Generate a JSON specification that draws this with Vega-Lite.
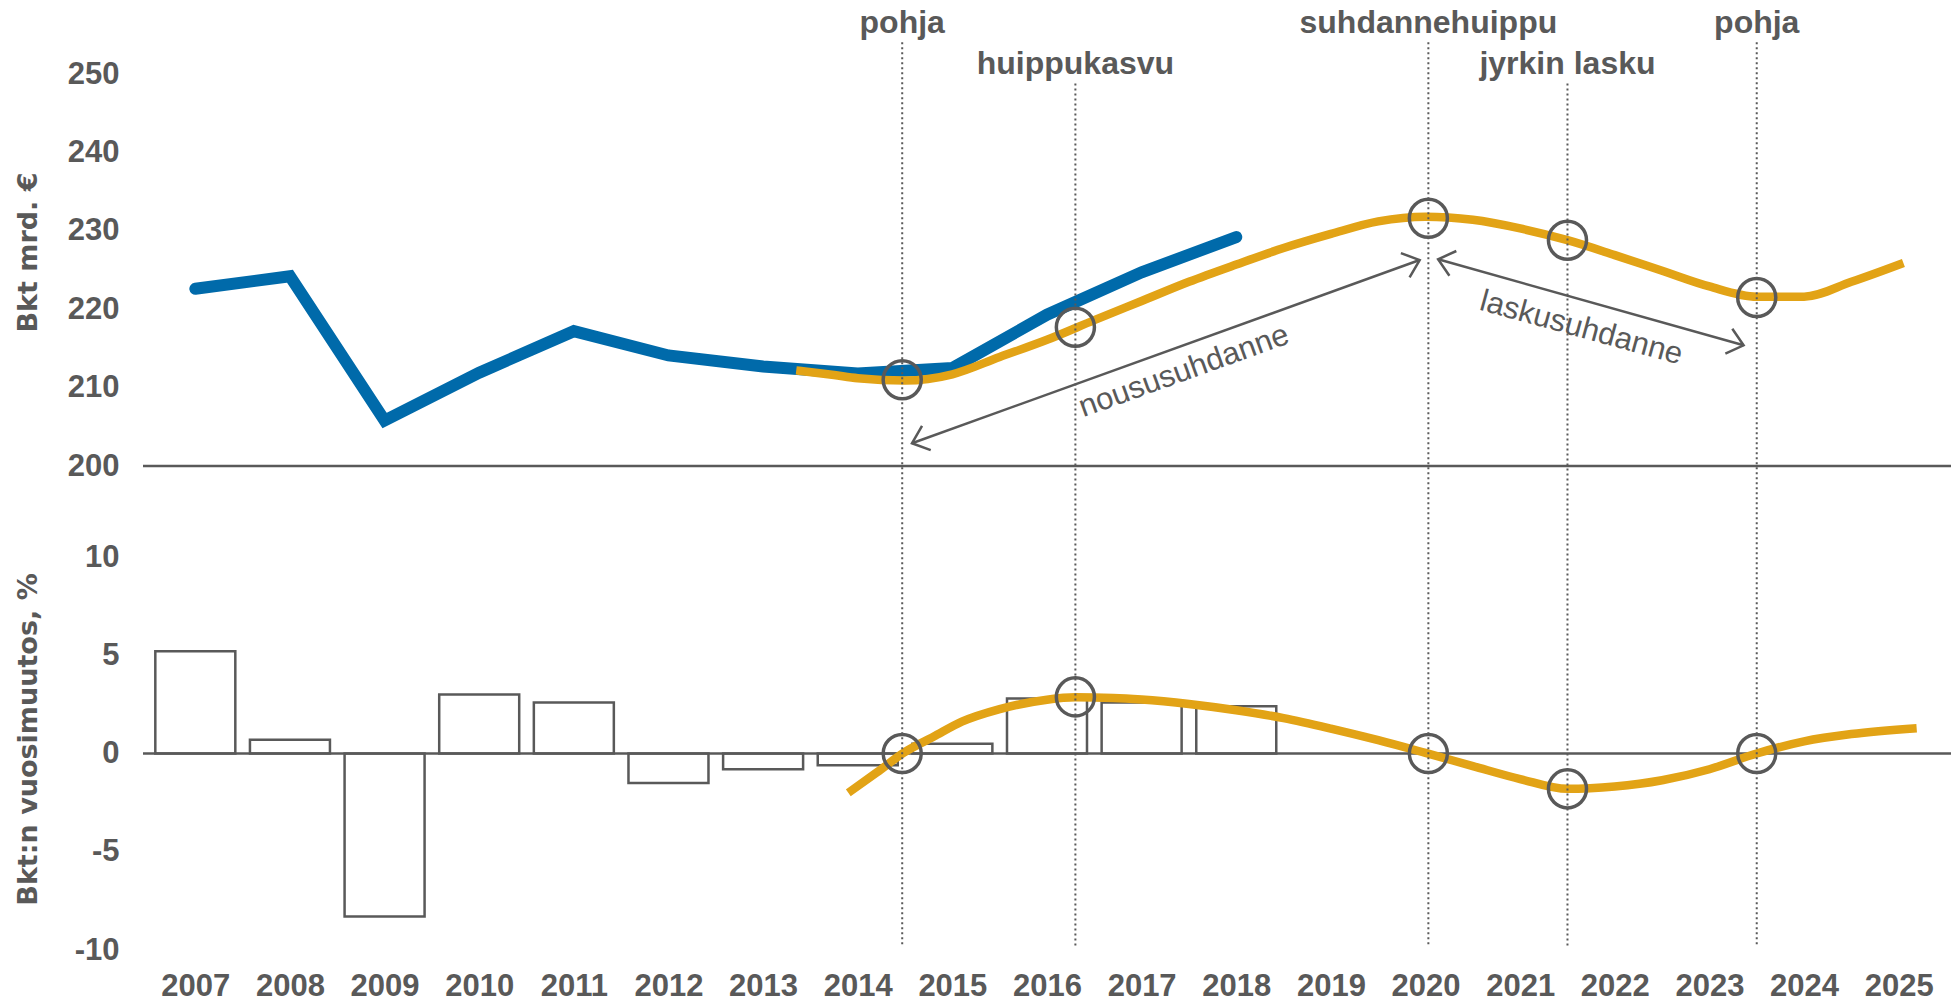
{
  "$schema": "https://vega.github.io/schema/vega-lite/v6.json",
  "width": 1808,
  "height": 965,
  "autosize": {"type": "none"},
  "padding": {"left": 143, "top": 0, "right": 7, "bottom": 38},
  "background": "white",
  "config": {
    "view": {"stroke": null},
    "font": "Liberation Sans",
    "axisX": {"domain": false, "ticks": false, "grid": false, "labelPadding": 6, "labelFont": "Liberation Sans",
              "labelFontSize": 31, "labelFontWeight": "bold", "labelColor": "#595959", "labelOverlap": false, "labelFlush": false}
  },
  "datasets": {
    "gdp": [
      {"vuosi": 2007, "bkt": 222.6}, {"vuosi": 2008, "bkt": 224.2}, {"vuosi": 2009, "bkt": 205.8},
      {"vuosi": 2010, "bkt": 211.9}, {"vuosi": 2011, "bkt": 217.2}, {"vuosi": 2012, "bkt": 214.1},
      {"vuosi": 2013, "bkt": 212.7}, {"vuosi": 2014, "bkt": 211.8}, {"vuosi": 2015, "bkt": 212.5},
      {"vuosi": 2016, "bkt": 219.3}, {"vuosi": 2017, "bkt": 224.7}, {"vuosi": 2018, "bkt": 229.2}
    ],
    "growth": [
      {"vuosi": 2007, "muutos": 5.2}, {"vuosi": 2008, "muutos": 0.7}, {"vuosi": 2009, "muutos": -8.3},
      {"vuosi": 2010, "muutos": 3.0}, {"vuosi": 2011, "muutos": 2.6}, {"vuosi": 2012, "muutos": -1.5},
      {"vuosi": 2013, "muutos": -0.8}, {"vuosi": 2014, "muutos": -0.6}, {"vuosi": 2015, "muutos": 0.5},
      {"vuosi": 2016, "muutos": 2.8}, {"vuosi": 2017, "muutos": 2.6}, {"vuosi": 2018, "muutos": 2.4}
    ],
    "cycleLevel": [
      {"vuosi": 2013.35, "bkt": 212.2}, {"vuosi": 2013.75, "bkt": 211.6}, {"vuosi": 2014.0, "bkt": 211.2},
      {"vuosi": 2014.5, "bkt": 210.9}, {"vuosi": 2015.0, "bkt": 211.7}, {"vuosi": 2015.5, "bkt": 213.9},
      {"vuosi": 2016.0, "bkt": 216.1}, {"vuosi": 2016.5, "bkt": 218.6}, {"vuosi": 2017.0, "bkt": 221.05},
      {"vuosi": 2017.5, "bkt": 223.5}, {"vuosi": 2018.0, "bkt": 225.7}, {"vuosi": 2018.5, "bkt": 227.8},
      {"vuosi": 2019.0, "bkt": 229.6}, {"vuosi": 2019.5, "bkt": 231.2}, {"vuosi": 2020.0, "bkt": 231.8},
      {"vuosi": 2020.5, "bkt": 231.4}, {"vuosi": 2021.0, "bkt": 230.3}, {"vuosi": 2021.5, "bkt": 228.8},
      {"vuosi": 2022.0, "bkt": 226.9}, {"vuosi": 2022.5, "bkt": 224.9}, {"vuosi": 2023.0, "bkt": 222.9},
      {"vuosi": 2023.5, "bkt": 221.6}, {"vuosi": 2024.0, "bkt": 221.6}, {"vuosi": 2024.5, "bkt": 223.5},
      {"vuosi": 2025.05, "bkt": 225.9}
    ],
    "cycleGrowth": [
      {"vuosi": 2013.9, "muutos": -2.0}, {"vuosi": 2014.2, "muutos": -0.97}, {"vuosi": 2014.5, "muutos": 0.08},
      {"vuosi": 2014.8, "muutos": 0.85}, {"vuosi": 2015.1, "muutos": 1.62}, {"vuosi": 2015.5, "muutos": 2.26},
      {"vuosi": 2016.0, "muutos": 2.74}, {"vuosi": 2016.3, "muutos": 2.86}, {"vuosi": 2016.7, "muutos": 2.83},
      {"vuosi": 2017.0, "muutos": 2.75}, {"vuosi": 2017.5, "muutos": 2.52}, {"vuosi": 2018.0, "muutos": 2.2},
      {"vuosi": 2018.5, "muutos": 1.8}, {"vuosi": 2019.0, "muutos": 1.27}, {"vuosi": 2019.5, "muutos": 0.68},
      {"vuosi": 2020.0, "muutos": 0.03}, {"vuosi": 2020.5, "muutos": -0.64}, {"vuosi": 2021.0, "muutos": -1.3},
      {"vuosi": 2021.5, "muutos": -1.8}, {"vuosi": 2022.0, "muutos": -1.68}, {"vuosi": 2022.5, "muutos": -1.36},
      {"vuosi": 2023.0, "muutos": -0.8}, {"vuosi": 2023.5, "muutos": 0.0}, {"vuosi": 2024.0, "muutos": 0.62},
      {"vuosi": 2024.5, "muutos": 0.99}, {"vuosi": 2025.19, "muutos": 1.29}
    ],
    "phases": [
      {"vuosi": 2014.47, "vaihe": "pohja", "labelY": 255.2, "ruleTop": 36.2, "ruleBottom": -9.85, "bkt": 211.0, "muutos": 0},
      {"vuosi": 2016.3, "vaihe": "huippukasvu", "labelY": 250.0, "ruleTop": 34.1, "ruleBottom": -9.9, "bkt": 217.7, "muutos": 2.88},
      {"vuosi": 2020.03, "vaihe": "suhdannehuippu", "labelY": 255.2, "ruleTop": 36.2, "ruleBottom": -9.85, "bkt": 231.6, "muutos": 0},
      {"vuosi": 2021.5, "vaihe": "jyrkin lasku", "labelY": 250.0, "ruleTop": 34.1, "ruleBottom": -9.85, "bkt": 228.8, "muutos": -1.8},
      {"vuosi": 2023.5, "vaihe": "pohja", "labelY": 255.2, "ruleTop": 36.2, "ruleBottom": -9.85, "bkt": 221.5, "muutos": 0}
    ],
    "arrows": [
      {"nimi": "noususuhdanne", "t1": 2014.573, "v1": 202.9, "t2": 2019.938, "v2": 226.27, "tt": 2017.48, "tv": 210.97},
      {"nimi": "laskusuhdanne", "t1": 2020.133, "v1": 226.37, "t2": 2023.361, "v2": 215.4, "tt": 2021.62, "tv": 216.45}
    ]
  },
  "layer": [
    {
      "data": {"name": "growth"},
      "mark": {"type": "bar", "width": 80, "fill": "white", "stroke": "#595959", "strokeWidth": 2.5},
      "encoding": {
        "x": {"field": "vuosi", "type": "quantitative", "title": null,
              "scale": {"domain": [2006.5, 2025.5], "nice": false, "zero": false},
              "axis": {"values": [2007,2008,2009,2010,2011,2012,2013,2014,2015,2016,2017,2018,2019,2020,2021,2022,2023,2024,2025],
                       "format": "d", "title": null, "domain": false, "ticks": false, "grid": false,
                       "labelPadding": 6, "labelFont": "Liberation Sans", "labelFontSize": 31, "labelFontWeight": "bold",
                       "labelColor": "#595959", "labelOverlap": false, "labelFlush": false}},
        "y": {"field": "muutos", "type": "quantitative",
              "scale": {"domain": [-10, 10], "range": [950, 557], "nice": false, "zero": false},
              "axis": {"orient": "left", "values": [-10, -5, 0, 5, 10], "title": "Bkt:n vuosimuutos, %",
                       "labelExpr": "datum.value < 0 ? '-' + format(-datum.value, 'd') : format(datum.value, 'd')",
                       "domain": false, "ticks": false, "grid": false, "labelPadding": 24,
                       "labelFont": "Liberation Sans", "labelFontSize": 31, "labelFontWeight": "bold", "labelColor": "#595959",
                       "labelFlush": false, "labelOverlap": false,
                       "titleFont": "DejaVu Sans", "titleFontSize": 27, "titleFontWeight": "bold", "titleColor": "#595959",
                       "titleAngle": 270, "titleAlign": "center", "titleBaseline": "middle", "titleX": -115, "titleY": 739}},
        "y2": {"datum": 0}
      }
    },
    {
      "data": {"values": [{"taso": 0}]},
      "mark": {"type": "rule", "stroke": "#595959", "strokeWidth": 2.5},
      "encoding": {
        "y": {"field": "taso", "type": "quantitative",
              "scale": {"domain": [-10, 10], "range": [950, 557], "nice": false, "zero": false}, "axis": null}
      }
    },
    {
      "data": {"name": "cycleGrowth"},
      "mark": {"type": "line", "stroke": "#E2A316", "strokeWidth": 8.5, "interpolate": "monotone", "strokeCap": "butt"},
      "encoding": {
        "x": {"field": "vuosi", "type": "quantitative", "title": null, "scale": {"domain": [2006.5, 2025.5], "nice": false, "zero": false}},
        "y": {"field": "muutos", "type": "quantitative",
              "scale": {"domain": [-10, 10], "range": [950, 557], "nice": false, "zero": false}, "axis": null}
      }
    },
    {
      "data": {"values": [{"taso": 200}]},
      "mark": {"type": "rule", "stroke": "#595959", "strokeWidth": 2.5},
      "encoding": {
        "y": {"field": "taso", "type": "quantitative",
              "scale": {"domain": [200, 250], "range": [466, 74], "nice": false, "zero": false},
              "axis": {"orient": "left", "values": [200, 210, 220, 230, 240, 250], "title": "Bkt mrd. €",
                       "domain": false, "ticks": false, "grid": false, "labelPadding": 24,
                       "labelFont": "Liberation Sans", "labelFontSize": 31, "labelFontWeight": "bold", "labelColor": "#595959",
                       "labelFlush": false, "labelOverlap": false,
                       "titleFont": "DejaVu Sans", "titleFontSize": 27, "titleFontWeight": "bold", "titleColor": "#595959",
                       "titleAngle": 270, "titleAlign": "center", "titleBaseline": "middle", "titleX": -115, "titleY": 252}}
      }
    },
    {
      "data": {"name": "gdp"},
      "mark": {"type": "line", "stroke": "#006AAA", "strokeWidth": 12, "strokeCap": "round", "strokeJoin": "miter"},
      "encoding": {
        "x": {"field": "vuosi", "type": "quantitative", "title": null, "scale": {"domain": [2006.5, 2025.5], "nice": false, "zero": false}},
        "y": {"field": "bkt", "type": "quantitative",
              "scale": {"domain": [200, 250], "range": [466, 74], "nice": false, "zero": false}, "axis": null}
      }
    },
    {
      "data": {"name": "cycleLevel"},
      "mark": {"type": "line", "stroke": "#E2A316", "strokeWidth": 8.5, "interpolate": "monotone", "strokeCap": "butt"},
      "encoding": {
        "x": {"field": "vuosi", "type": "quantitative", "title": null, "scale": {"domain": [2006.5, 2025.5], "nice": false, "zero": false}},
        "y": {"field": "bkt", "type": "quantitative",
              "scale": {"domain": [200, 250], "range": [466, 74], "nice": false, "zero": false}, "axis": null}
      }
    },
    {
      "data": {"name": "phases"},
      "mark": {"type": "rule", "stroke": "#595959", "strokeWidth": 2, "strokeDash": [2, 3]},
      "encoding": {
        "x": {"field": "vuosi", "type": "quantitative", "title": null, "scale": {"domain": [2006.5, 2025.5], "nice": false, "zero": false}},
        "y": {"field": "ruleTop", "type": "quantitative",
              "scale": {"domain": [-10, 10], "range": [950, 557], "nice": false, "zero": false}, "axis": null},
        "y2": {"field": "ruleBottom"}
      }
    },
    {
      "data": {"name": "phases"},
      "mark": {"type": "point", "shape": "circle", "filled": false, "size": 1450, "stroke": "#595959", "strokeWidth": 3.5, "opacity": 1},
      "encoding": {
        "x": {"field": "vuosi", "type": "quantitative", "title": null, "scale": {"domain": [2006.5, 2025.5], "nice": false, "zero": false}},
        "y": {"field": "muutos", "type": "quantitative",
              "scale": {"domain": [-10, 10], "range": [950, 557], "nice": false, "zero": false}, "axis": null}
      }
    },
    {
      "data": {"name": "phases"},
      "mark": {"type": "point", "shape": "circle", "filled": false, "size": 1450, "stroke": "#595959", "strokeWidth": 3.5, "opacity": 1},
      "encoding": {
        "x": {"field": "vuosi", "type": "quantitative", "title": null, "scale": {"domain": [2006.5, 2025.5], "nice": false, "zero": false}},
        "y": {"field": "bkt", "type": "quantitative",
              "scale": {"domain": [200, 250], "range": [466, 74], "nice": false, "zero": false}, "axis": null}
      }
    },
    {
      "data": {"name": "phases"},
      "mark": {"type": "text", "font": "Liberation Sans", "fontSize": 32, "fontWeight": "bold", "fill": "#595959", "align": "center", "baseline": "alphabetic"},
      "encoding": {
        "x": {"field": "vuosi", "type": "quantitative", "title": null, "scale": {"domain": [2006.5, 2025.5], "nice": false, "zero": false}},
        "y": {"field": "labelY", "type": "quantitative",
              "scale": {"domain": [200, 250], "range": [466, 74], "nice": false, "zero": false}, "axis": null},
        "text": {"field": "vaihe"}
      }
    },
    {
      "data": {"name": "arrows"},
      "mark": {"type": "rule", "stroke": "#595959", "strokeWidth": 2.5},
      "encoding": {
        "x": {"field": "t1", "type": "quantitative", "title": null, "scale": {"domain": [2006.5, 2025.5], "nice": false, "zero": false}},
        "x2": {"field": "t2"},
        "y": {"field": "v1", "type": "quantitative",
              "scale": {"domain": [200, 250], "range": [466, 74], "nice": false, "zero": false}, "axis": null},
        "y2": {"field": "v2"}
      }
    },
    {
      "data": {"name": "arrows"},
      "transform": [{"filter": "datum.nimi === 'noususuhdanne'"}],
      "mark": {"type": "point", "shape": "M-0.766,-0.643L0,0L-0.766,0.643", "filled": false, "size": 1600, "stroke": "#595959", "strokeWidth": 2.5, "opacity": 1, "angle": 340.25},
      "encoding": {
        "x": {"field": "t2", "type": "quantitative", "title": null, "scale": {"domain": [2006.5, 2025.5], "nice": false, "zero": false}},
        "y": {"field": "v2", "type": "quantitative",
              "scale": {"domain": [200, 250], "range": [466, 74], "nice": false, "zero": false}, "axis": null}
      }
    },
    {
      "data": {"name": "arrows"},
      "transform": [{"filter": "datum.nimi === 'noususuhdanne'"}],
      "mark": {"type": "point", "shape": "M-0.766,-0.643L0,0L-0.766,0.643", "filled": false, "size": 1600, "stroke": "#595959", "strokeWidth": 2.5, "opacity": 1, "angle": 160.25},
      "encoding": {
        "x": {"field": "t1", "type": "quantitative", "title": null, "scale": {"domain": [2006.5, 2025.5], "nice": false, "zero": false}},
        "y": {"field": "v1", "type": "quantitative",
              "scale": {"domain": [200, 250], "range": [466, 74], "nice": false, "zero": false}, "axis": null}
      }
    },
    {
      "data": {"name": "arrows"},
      "transform": [{"filter": "datum.nimi === 'laskusuhdanne'"}],
      "mark": {"type": "point", "shape": "M-0.766,-0.643L0,0L-0.766,0.643", "filled": false, "size": 1600, "stroke": "#595959", "strokeWidth": 2.5, "opacity": 1, "angle": 15.64},
      "encoding": {
        "x": {"field": "t2", "type": "quantitative", "title": null, "scale": {"domain": [2006.5, 2025.5], "nice": false, "zero": false}},
        "y": {"field": "v2", "type": "quantitative",
              "scale": {"domain": [200, 250], "range": [466, 74], "nice": false, "zero": false}, "axis": null}
      }
    },
    {
      "data": {"name": "arrows"},
      "transform": [{"filter": "datum.nimi === 'laskusuhdanne'"}],
      "mark": {"type": "point", "shape": "M-0.766,-0.643L0,0L-0.766,0.643", "filled": false, "size": 1600, "stroke": "#595959", "strokeWidth": 2.5, "opacity": 1, "angle": 195.64},
      "encoding": {
        "x": {"field": "t1", "type": "quantitative", "title": null, "scale": {"domain": [2006.5, 2025.5], "nice": false, "zero": false}},
        "y": {"field": "v1", "type": "quantitative",
              "scale": {"domain": [200, 250], "range": [466, 74], "nice": false, "zero": false}, "axis": null}
      }
    },
    {
      "data": {"name": "arrows"},
      "transform": [{"filter": "datum.nimi === 'noususuhdanne'"}],
      "mark": {"type": "text", "font": "Liberation Sans", "fontSize": 31, "fill": "#595959", "align": "center", "baseline": "alphabetic", "angle": 340.2},
      "encoding": {
        "x": {"field": "tt", "type": "quantitative", "title": null, "scale": {"domain": [2006.5, 2025.5], "nice": false, "zero": false}},
        "y": {"field": "tv", "type": "quantitative",
              "scale": {"domain": [200, 250], "range": [466, 74], "nice": false, "zero": false}, "axis": null},
        "text": {"field": "nimi"}
      }
    },
    {
      "data": {"name": "arrows"},
      "transform": [{"filter": "datum.nimi === 'laskusuhdanne'"}],
      "mark": {"type": "text", "font": "Liberation Sans", "fontSize": 31, "fill": "#595959", "align": "center", "baseline": "alphabetic", "angle": 15.3},
      "encoding": {
        "x": {"field": "tt", "type": "quantitative", "title": null, "scale": {"domain": [2006.5, 2025.5], "nice": false, "zero": false}},
        "y": {"field": "tv", "type": "quantitative",
              "scale": {"domain": [200, 250], "range": [466, 74], "nice": false, "zero": false}, "axis": null},
        "text": {"field": "nimi"}
      }
    }
  ],
  "resolve": {"scale": {"y": "independent"}, "axis": {"y": "independent"}}
}
